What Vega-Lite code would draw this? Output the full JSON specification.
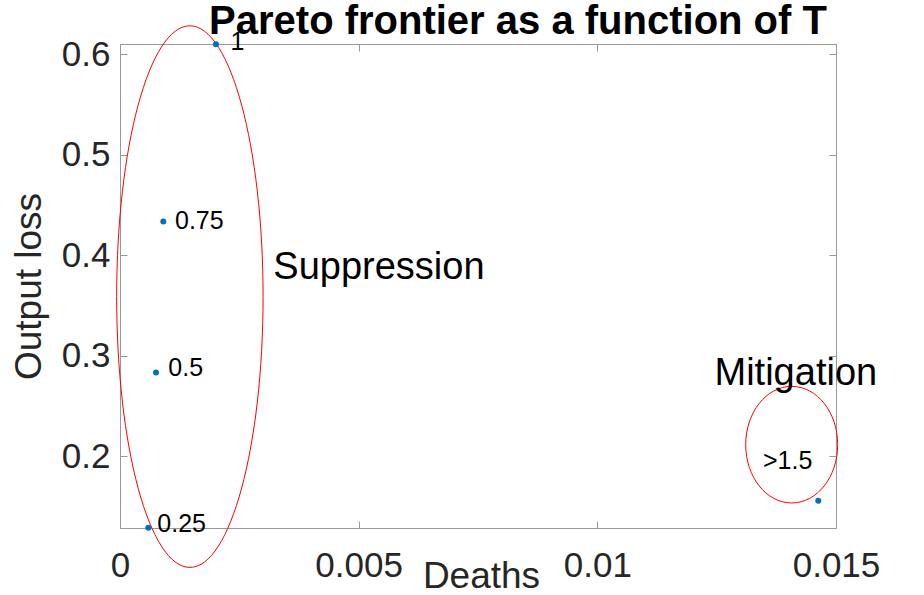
{
  "$schema": "https://vega.github.io/schema/vega-lite/v6.json",
  "width": 716,
  "height": 484,
  "autosize": {"type": "none"},
  "padding": {"left": 120, "top": 44, "right": 88, "bottom": 67},
  "background": "white",
  "config": {
    "view": {"stroke": null},
    "font": "Liberation Sans",
    "axis": {
      "grid": false,
      "domainColor": "#999999",
      "domainWidth": 1,
      "tickColor": "#999999",
      "tickWidth": 1,
      "tickSize": -7,
      "labelFont": "Liberation Sans",
      "labelFontSize": 35,
      "labelColor": "#262626",
      "labelFlush": false,
      "labelOverlap": false,
      "titleFont": "Liberation Sans",
      "titleFontSize": 37,
      "titleFontWeight": "normal",
      "titleColor": "#262626"
    }
  },
  "title": {
    "text": "Pareto frontier as a function of T",
    "font": "Liberation Sans",
    "fontSize": 40,
    "fontWeight": "bold",
    "color": "#000000",
    "anchor": "middle",
    "frame": "group",
    "dx": 40,
    "offset": -50,
    "baseline": "alphabetic"
  },
  "resolve": {"axis": {"x": "independent", "y": "independent"}},
  "layer": [
    {
      "data": {"values": [{"region": "Suppression", "x": 0.001464, "y": 0.3589}]},
      "mark": {
        "type": "point",
        "filled": false,
        "stroke": "#ff0000",
        "strokeWidth": 1,
        "opacity": 1,
        "size": 293330,
        "shape": "M 0 -1 C 0.1493 -1 0.2703 -0.5523 0.2703 0 C 0.2703 0.5523 0.1493 1 0 1 C -0.1493 1 -0.2703 0.5523 -0.2703 0 C -0.2703 -0.5523 -0.1493 -1 0 -1 Z"
      },
      "encoding": {
        "x": {
          "field": "x", "type": "quantitative",
          "scale": {"domain": [0, 0.015], "nice": false, "zero": false},
          "axis": {"orient": "top", "labels": false, "title": null, "values": [0, 0.005, 0.01, 0.015]}
        },
        "y": {
          "field": "y", "type": "quantitative",
          "scale": {"domain": [0.1287, 0.6102], "nice": false, "zero": false},
          "axis": {"orient": "right", "labels": false, "title": null, "values": [0.2, 0.3, 0.4, 0.5, 0.6]}
        }
      }
    },
    {
      "data": {"values": [{"region": "Mitigation", "x": 0.014072, "y": 0.2116}]},
      "mark": {
        "type": "point",
        "filled": false,
        "stroke": "#ff0000",
        "strokeWidth": 1,
        "opacity": 1,
        "size": 13596,
        "shape": "M 0 -1 C 0.4358 -1 0.789 -0.5523 0.789 0 C 0.789 0.5523 0.4358 1 0 1 C -0.4358 1 -0.789 0.5523 -0.789 0 C -0.789 -0.5523 -0.4358 -1 0 -1 Z"
      },
      "encoding": {
        "x": {"field": "x", "type": "quantitative", "axis": null},
        "y": {"field": "y", "type": "quantitative", "axis": null}
      }
    },
    {
      "data": {"values": [
        {"T": "1", "deaths": 0.002011, "loss": 0.6100},
        {"T": "0.75", "deaths": 0.000907, "loss": 0.4336},
        {"T": "0.5", "deaths": 0.000754, "loss": 0.2835},
        {"T": "0.25", "deaths": 0.000593, "loss": 0.1290},
        {"T": ">1.5", "deaths": 0.014629, "loss": 0.1557}
      ]},
      "mark": {"type": "point", "filled": true, "color": "#0072BD", "opacity": 1, "size": 36},
      "encoding": {
        "x": {
          "field": "deaths", "type": "quantitative",
          "axis": {
            "orient": "bottom",
            "values": [0, 0.005, 0.01, 0.015],
            "labelExpr": "format(datum.value, '~g')",
            "labelBaseline": "alphabetic",
            "labelPadding": 55.7,
            "title": "Deaths",
            "titleX": 361,
            "titleY": 59.5,
            "titleAlign": "center",
            "titleBaseline": "alphabetic"
          }
        },
        "y": {
          "field": "loss", "type": "quantitative",
          "axis": {
            "orient": "left",
            "values": [0.2, 0.3, 0.4, 0.5, 0.6],
            "labelExpr": "format(datum.value, '~g')",
            "labelAlign": "right",
            "labelBaseline": "middle",
            "labelPadding": 17,
            "title": "Output loss",
            "titleX": -80,
            "titleY": 242,
            "titleAngle": -90,
            "titleAlign": "center",
            "titleBaseline": "alphabetic"
          }
        }
      }
    },
    {
      "data": {"values": [
        {"text": "1", "x": 0.002315, "y": 0.6038},
        {"text": "0.75", "x": 0.001152, "y": 0.4260},
        {"text": "0.5", "x": 0.001012, "y": 0.2795},
        {"text": "0.25", "x": 0.000781, "y": 0.1249},
        {"text": ">1.5", "x": 0.013471, "y": 0.1875}
      ]},
      "mark": {"type": "text", "align": "left", "baseline": "alphabetic", "font": "Liberation Sans", "fontSize": 25, "color": "#000000"},
      "encoding": {
        "x": {"field": "x", "type": "quantitative", "axis": null},
        "y": {"field": "y", "type": "quantitative", "axis": null},
        "text": {"field": "text"}
      }
    },
    {
      "data": {"values": [
        {"text": "Suppression", "x": 0.003212, "y": 0.3766},
        {"text": "Mitigation", "x": 0.012455, "y": 0.2706}
      ]},
      "mark": {"type": "text", "align": "left", "baseline": "alphabetic", "font": "Liberation Sans", "fontSize": 38, "color": "#000000"},
      "encoding": {
        "x": {"field": "x", "type": "quantitative", "axis": null},
        "y": {"field": "y", "type": "quantitative", "axis": null},
        "text": {"field": "text"}
      }
    }
  ]
}
